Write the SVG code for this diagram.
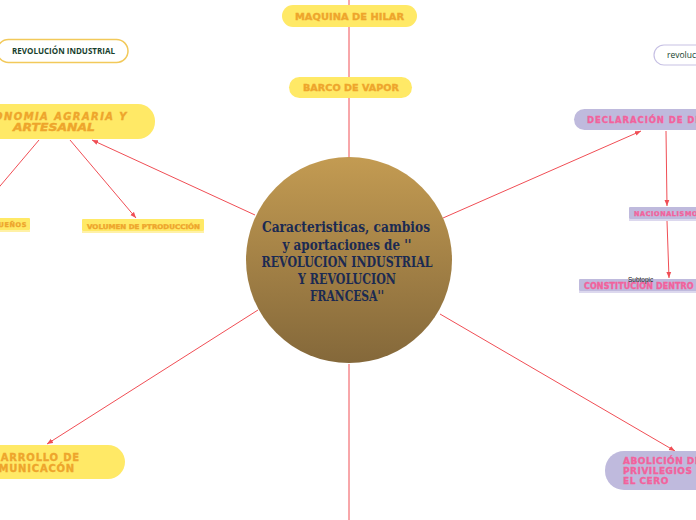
<svg xmlns="http://www.w3.org/2000/svg" width="696" height="520" viewBox="0 0 696 520">
<defs>
<linearGradient id="cg" x1="0" y1="0" x2="0" y2="1">
<stop offset="0" stop-color="#c39b52"/>
<stop offset="1" stop-color="#84683a"/>
</linearGradient>
<marker id="ar" viewBox="0 0 10 10" refX="10" refY="5" markerWidth="6" markerHeight="6" markerUnits="userSpaceOnUse" orient="auto">
<path d="M0,1 L10,5 L0,9 z" fill="#f04e55"/>
</marker>
<style>
.c{stroke:#f04e55;stroke-width:1;fill:none}
.ca{stroke:#f04e55;stroke-width:1;fill:none;marker-end:url(#ar)}
.y{fill:#ffe966}
.ys{fill:#fff1a6}
.l{fill:#bfbadd}
.ls{fill:#dcd8ee}
.ot{font-family:"DejaVu Sans",sans-serif;font-weight:bold;fill:#eea52c;stroke:#eea52c;stroke-width:0.35}
.pt{font-family:"DejaVu Sans",sans-serif;font-weight:bold;fill:#f2629c;stroke:#f2629c;stroke-width:0.35}
.ct{font-family:"DejaVu Serif",serif;font-weight:bold;font-size:14px;fill:#1b2a52;text-anchor:middle}
</style>
</defs>
<g id="connectors">
<path class="c" d="M349,0 L349,157"/>
<path class="c" d="M349,364 L349,520"/>
<path class="ca" d="M255,215 L92,140"/>
<path class="ca" d="M70,140 L136,218"/>
<path class="c" d="M39,140 L-5,192"/>
<path class="ca" d="M443,218 L641,131"/>
<path class="ca" d="M666,131 L667,206"/>
<path class="ca" d="M667,221 L669,278"/>
<path class="ca" d="M440,314 L675,451"/>
<path class="ca" d="M258,310 L47,444"/>
</g>
<g id="center">
<circle cx="349" cy="260" r="103" fill="url(#cg)"/>
<text class="ct" x="346" y="232" textLength="168" lengthAdjust="spacingAndGlyphs">Caracteristicas, cambios</text>
<text class="ct" x="347" y="250" textLength="129" lengthAdjust="spacingAndGlyphs">y aportaciones de ''</text>
<text class="ct" x="347" y="267" textLength="171" lengthAdjust="spacingAndGlyphs">REVOLUCION INDUSTRIAL</text>
<text class="ct" x="347" y="284" textLength="98" lengthAdjust="spacingAndGlyphs">Y REVOLUCION</text>
<text class="ct" x="347" y="301" textLength="74" lengthAdjust="spacingAndGlyphs">FRANCESA''</text>
</g>
<g id="maquina">
<rect class="y" x="282" y="5" width="135" height="22" rx="11"/>
<text class="ot" x="295" y="20" font-size="9" textLength="109" lengthAdjust="spacingAndGlyphs">MAQUINA DE HILAR</text>
</g>
<g id="barco">
<rect class="y" x="289" y="77" width="123" height="21" rx="10.5"/>
<text class="ot" x="303" y="91" font-size="9" textLength="96" lengthAdjust="spacingAndGlyphs">BARCO DE VAPOR</text>
</g>
<g id="rev-industrial">
<rect x="-3" y="39.5" width="131" height="23" rx="11.5" fill="#ffffff" stroke="#f2c95a" stroke-width="1.5"/>
<text x="12" y="54" font-family="'Open Sans',sans-serif" font-weight="bold" font-size="8.5" fill="#173f2e" textLength="103" lengthAdjust="spacingAndGlyphs">REVOLUCIÓN INDUSTRIAL</text>
</g>
<g id="economia">
<rect class="y" x="-47" y="104" width="202" height="35" rx="17"/>
<text class="ot" x="128" y="120" font-size="10" font-style="italic" letter-spacing="1.4" text-anchor="end">ECONOMIA AGRARIA Y</text>
<text class="ot" x="13" y="131" font-size="10" font-style="italic" textLength="82" lengthAdjust="spacingAndGlyphs">ARTESANAL</text>
</g>
<g id="pequenos">
<rect class="y" x="-40" y="218" width="70" height="12" rx="1"/>
<rect class="ys" x="-40" y="230" width="70" height="2"/>
<text class="ot" x="27" y="227" font-size="6.5" letter-spacing="0.6" text-anchor="end">PEQUEÑOS</text>
</g>
<g id="volumen">
<rect class="y" x="82" y="219" width="122" height="12" rx="1"/>
<rect class="ys" x="82" y="231" width="122" height="2"/>
<text class="ot" x="87" y="228.5" font-size="6.5" textLength="113" lengthAdjust="spacingAndGlyphs">VOLUMEN DE PTRODUCCIÓN</text>
</g>
<g id="desarrollo">
<rect class="y" x="-70" y="445" width="195" height="34" rx="17"/>
<text class="ot" x="28" y="461" font-size="10" letter-spacing="0.8" text-anchor="middle">DESARROLLO DE</text>
<text class="ot" x="28" y="472" font-size="10" letter-spacing="0.8" text-anchor="middle">COMUNICACÓN</text>
</g>
<g id="rev-francesa">
<rect x="654" y="45" width="120" height="20" rx="10" fill="#ffffff" stroke="#c7c1e4" stroke-width="1.2"/>
<text x="667" y="58" font-family="'Open Sans',sans-serif" font-size="8.5" fill="#173f2e">revolución francesa</text>
</g>
<g id="declaracion">
<rect class="l" x="574" y="109" width="200" height="21" rx="10.5"/>
<text class="pt" x="587" y="123" font-size="8.5" letter-spacing="0.9">DECLARACIÓN DE DERECHOS</text>
</g>
<g id="nacionalismo">
<rect class="l" x="629" y="207" width="100" height="12" rx="1"/>
<rect class="ls" x="629" y="219" width="100" height="2"/>
<text class="pt" x="634" y="216" font-size="6.5" letter-spacing="0.6">NACIONALISMO</text>
</g>
<g id="constitucion">
<rect class="l" x="579" y="279" width="150" height="12" rx="1"/>
<rect class="ls" x="579" y="291" width="150" height="2"/>
<text class="pt" x="584" y="289" font-size="8" letter-spacing="0.1">CONSTITUCION DENTRO DE</text>
<text x="628" y="282" font-family="'Liberation Sans',sans-serif" font-size="6.5" fill="#222222">Subtopic</text>
</g>
<g id="abolicion">
<rect class="l" x="605" y="451" width="150" height="39" rx="19"/>
<text class="pt" x="623" y="464" font-size="9" letter-spacing="0.5">ABOLICIÓN DE</text>
<text class="pt" x="623" y="474" font-size="9" letter-spacing="0.5">PRIVILEGIOS DE</text>
<text class="pt" x="623" y="484" font-size="9" letter-spacing="0.5">EL CERO</text>
</g>
</svg>
